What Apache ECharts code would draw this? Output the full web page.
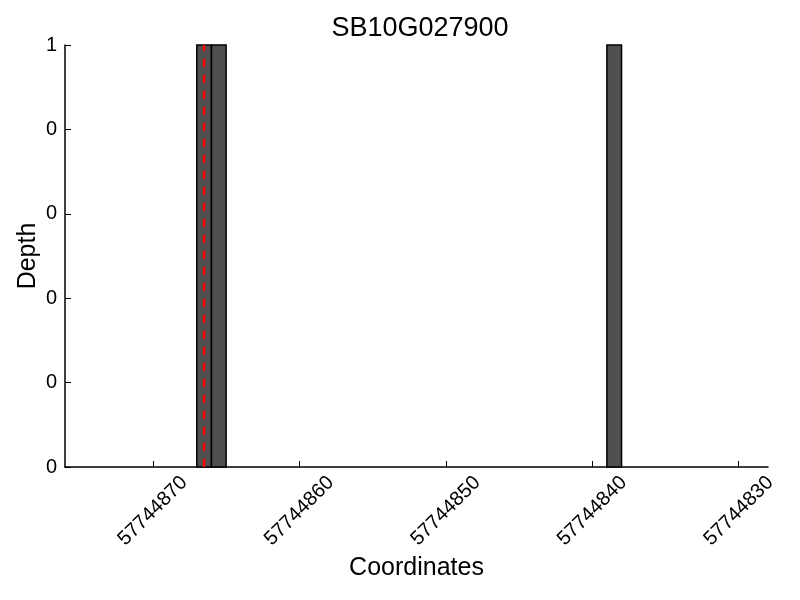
<!DOCTYPE html>
<html>
<head>
<meta charset="utf-8">
<script src="https://cdn.jsdelivr.net/npm/echarts@6/dist/echarts.min.js"></script>
<style>html,body{margin:0;padding:0;background:#fff}#c{width:800px;height:600px}</style>
</head>
<body>
<div id="c"></div>
<script>
// Data
const chartTitle = 'SB10G027900';
const binStarts = [57744867, 57744866, 57744839];
const binEnds = [57744866, 57744865, 57744838];
const depths = [1, 1, 1];
const markerPosition = 57744866.5;
const xTickValues = [57744870, 57744860, 57744850, 57744840, 57744830];
const yTickValues = [0, 0.2, 0.4, 0.6, 0.8, 1];
const yTickLabels = ['0', '0', '0', '0', '0', '1'];
const xRange = [57744828, 57744876];

const FONT = 'Liberation Sans';
const chart = echarts.init(document.getElementById('c'), null, {renderer: 'canvas'});
const barData = binStarts.map((s, i) => [s, binEnds[i], depths[i]]);

chart.setOption({
  animation: false,
  backgroundColor: '#ffffff',
  title: {
    text: chartTitle,
    left: 415, top: 10, textAlign: 'center',
    textStyle: {fontFamily: FONT, fontSize: 27, fontWeight: 'normal', color: '#000'}
  },
  grid: {left: 65, right: 32, top: 45, bottom: 133, outerBoundsMode: 'none'},
  xAxis: {
    type: 'value', inverse: true, min: xRange[0], max: xRange[1],
    name: 'Coordinates', nameLocation: 'middle', nameGap: 89, nameMoveOverlap: false,
    nameTextStyle: {fontFamily: FONT, fontSize: 25, color: '#000'},
    axisLine: {show: true, onZero: false, lineStyle: {color: '#000', width: 1.5}},
    axisTick: {show: true, inside: true, length: 6, customValues: xTickValues, lineStyle: {color: '#000', width: 1}},
    axisLabel: {customValues: xTickValues, rotate: 45, align: 'center', verticalAlign: 'middle', margin: 44,
      fontFamily: FONT, fontSize: 20, color: '#000', formatter: v => String(v)},
    splitLine: {show: false}
  },
  yAxis: {
    type: 'value', min: 0, max: 1,
    name: 'Depth', nameLocation: 'middle', nameGap: 24, nameMoveOverlap: false,
    nameTextStyle: {fontFamily: FONT, fontSize: 25, color: '#000'},
    axisLine: {show: true, lineStyle: {color: '#000', width: 1.5}},
    axisTick: {show: true, inside: true, length: 6, customValues: yTickValues, lineStyle: {color: '#000', width: 1}},
    axisLabel: {customValues: yTickValues, margin: 8, fontFamily: FONT, fontSize: 20, color: '#000',
      formatter: v => { const i = yTickValues.findIndex(t => Math.abs(t - v) < 1e-9); return i >= 0 ? yTickLabels[i] : ''; }},
    splitLine: {show: false}
  },
  series: [
    {
      type: 'custom',
      data: barData,
      encode: {x: [0, 1], y: 2},
      renderItem: function (params, api) {
        const p0 = api.coord([api.value(0), 0]);
        const p1 = api.coord([api.value(1), api.value(2)]);
        return {
          type: 'rect',
          shape: {x: Math.min(p0[0], p1[0]), y: p1[1], width: Math.abs(p1[0] - p0[0]), height: p0[1] - p1[1]},
          style: {fill: '#505050', stroke: '#000', lineWidth: 1.5}
        };
      },
      z: 2
    },
    {
      type: 'line',
      data: [[markerPosition, 0], [markerPosition, 1]],
      symbol: 'none',
      lineStyle: {color: '#ff0000', width: 2.5, type: [8, 8]},
      z: 3
    }
  ]
});
</script>
</body>
</html>
